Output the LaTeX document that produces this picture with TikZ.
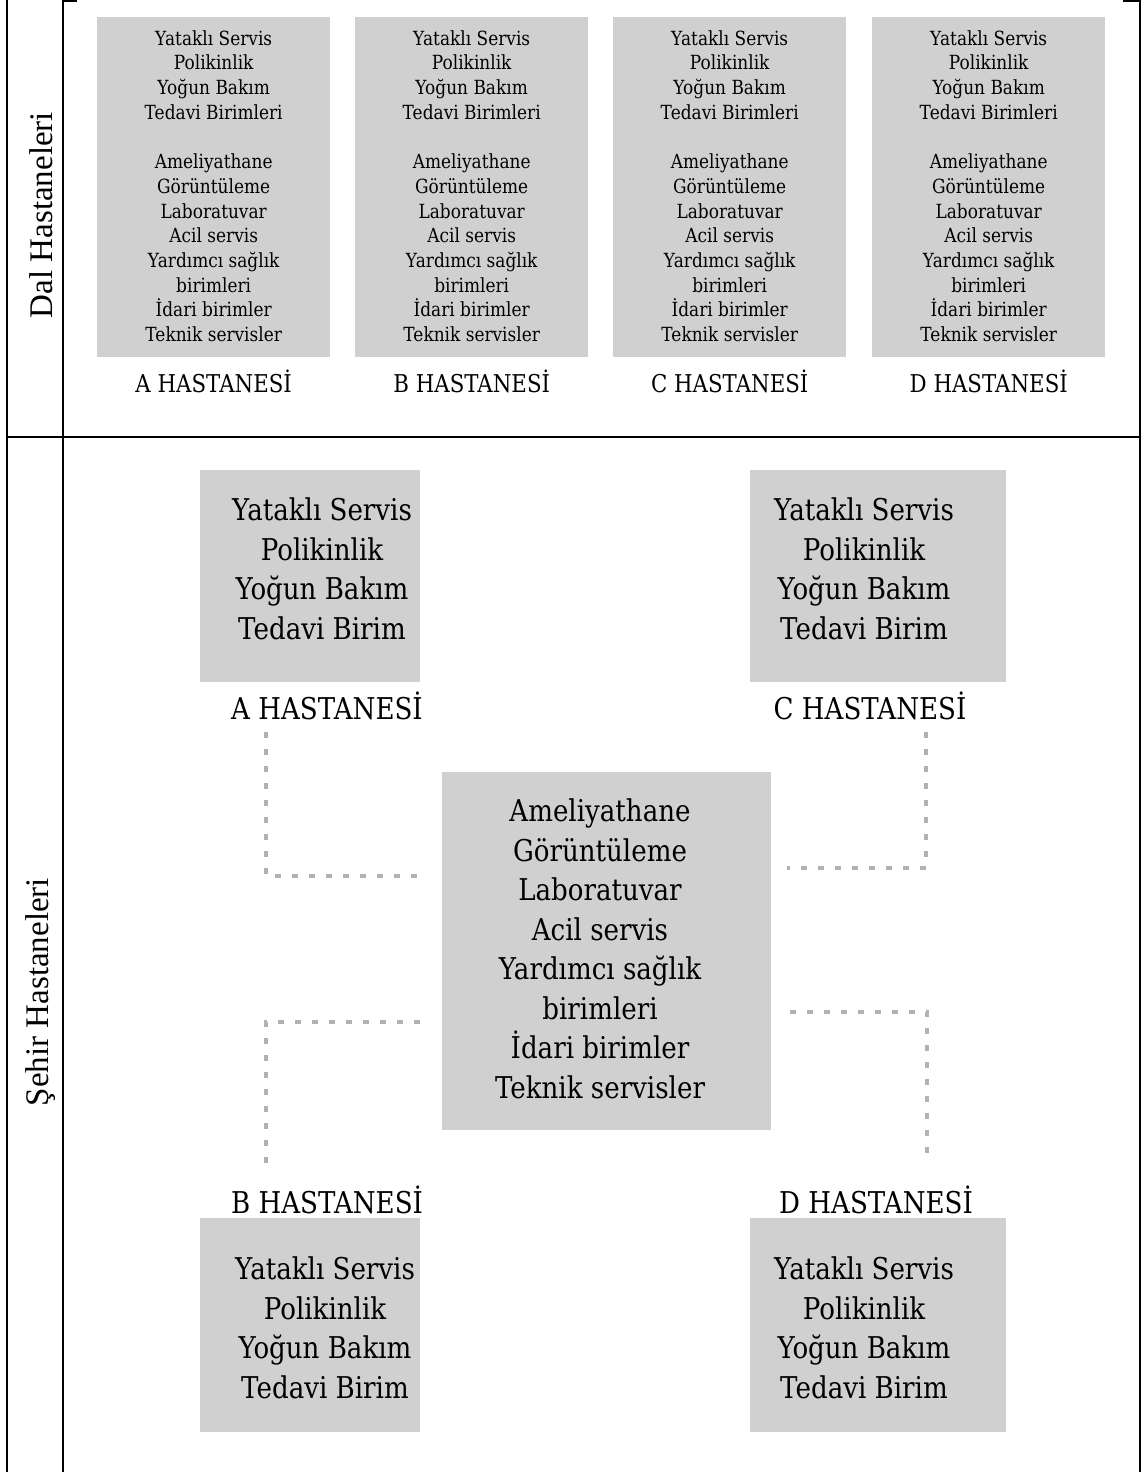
\documentclass[tikz,border=0pt]{standalone}
\usepackage{fontspec}
\setmainfont{DejaVu Serif}[FakeStretch=0.87]
\newfontfamily\sidefont{Liberation Serif}
\usetikzlibrary{calc}
\definecolor{boxgray}{RGB}{208,208,208}
\definecolor{dotgray}{RGB}{178,178,178}

\begin{document}
\begin{tikzpicture}[x=1pt,y=-1pt,
  panel/.style={fill=boxgray, draw=none, inner sep=0pt, anchor=north west},
  smalltxt/.style={align=center, inner sep=0pt, font=\fontsize{19.5}{24.7}\selectfont},
  bigtxt/.style={align=center, inner sep=0pt, font=\fontsize{30}{39.5}\selectfont},
  toplabel/.style={inner sep=0pt, font=\fontsize{24.5}{28}\selectfont},
  biglabel/.style={inner sep=0pt, font=\fontsize{30}{34}\selectfont},
  sidelabel/.style={inner sep=0pt, rotate=90, font=\sidefont\fontsize{33}{37}\selectfont},
  rule/.style={line width=2pt, black},
  thinrule/.style={line width=1.2pt, black},
  link/.style={dotgray, line width=3.5pt, dash pattern=on 6pt off 11pt}
]
\useasboundingbox (0,0) rectangle (1146,1472);

% table rules
\draw[rule] (7,0) -- (7,1472);
\draw[rule] (63,0) -- (63,1472);
\draw[rule] (1140,0) -- (1140,1472);
\draw[rule] (63,1) -- (77,1);
\draw[rule] (1123,1) -- (1140,1);
\draw[rule] (7,437) -- (175,437);
\draw[thinrule] (175,437) -- (1027,437);
\draw[rule] (1027,437) -- (1140,437);

% row titles
\node[sidelabel] (dal) at (41,215) {Dal Hastaneleri};
\node[sidelabel] (sehir) at (41,992) {Şehir Hastaneleri};

% branch hospitals: four complete hospitals
\foreach \n/\x in {A/97,B/355,C/613,D/872}{
  \node[panel, minimum width=233pt, minimum height=340pt] (t\n) at (\x,17) {};
  \node[smalltxt] (t\n txt) at ($(t\n.center)+(0,-1)$) {Yataklı Servis\\Polikinlik\\Yoğun Bakım\\Tedavi Birimleri\\[24.7pt]Ameliyathane\\Görüntüleme\\Laboratuvar\\Acil servis\\Yardımcı sağlık\\birimleri\\İdari birimler\\Teknik servisler};
  \node[toplabel] (t\n lab) at ($(t\n.south)+(0,24)$) {\n{} HASTANESİ};
}

% city hospital: shared central services
\node[panel, minimum width=329pt, minimum height=358pt] (core) at (442,772) {};
\node[bigtxt] (coretxt) at (600,949) {Ameliyathane\\Görüntüleme\\Laboratuvar\\Acil servis\\Yardımcı sağlık\\birimleri\\İdari birimler\\Teknik servisler};

\node[panel, minimum width=220pt, minimum height=212pt] (hA) at (200,470) {};
\node[panel, minimum width=256pt, minimum height=212pt] (hC) at (750,470) {};
\node[panel, minimum width=220pt, minimum height=214pt] (hB) at (200,1218) {};
\node[panel, minimum width=256pt, minimum height=214pt] (hD) at (750,1218) {};

\foreach \n/\x/\y in {A/322/569,C/864/569,B/325/1328,D/864/1328}{
  \node[bigtxt] (h\n txt) at (\x,\y) {Yataklı Servis\\Polikinlik\\Yoğun Bakım\\Tedavi Birim};
}

\node[biglabel] (hAlab) at (327,706) {A HASTANESİ};
\node[biglabel] (hClab) at (870,706) {C HASTANESİ};
\node[biglabel] (hBlab) at (327,1200) {B HASTANESİ};
\node[biglabel] (hDlab) at (876,1200) {D HASTANESİ};

% dotted links to the shared services
\coordinate (a1) at (266,732);
\coordinate (a2) at (266,876);
\coordinate (a3) at (420,876);
\draw[link] (a1) -- (a2) -- (a3);

\coordinate (c1) at (926,732);
\coordinate (c2) at (926,868);
\coordinate (c3) at (787,868);
\draw[link] (c1) -- (c2) -- (c3);

\coordinate (b1) at (420,1022);
\coordinate (b2) at (266,1022);
\coordinate (b3) at (266,1167);
\draw[link] (b1) -- (b2) -- (b3);

\coordinate (d1) at (790,1012);
\coordinate (d2) at (927,1012);
\coordinate (d3) at (927,1163);
\draw[link] (d1) -- (d2) -- (d3);
\end{tikzpicture}
\end{document}
